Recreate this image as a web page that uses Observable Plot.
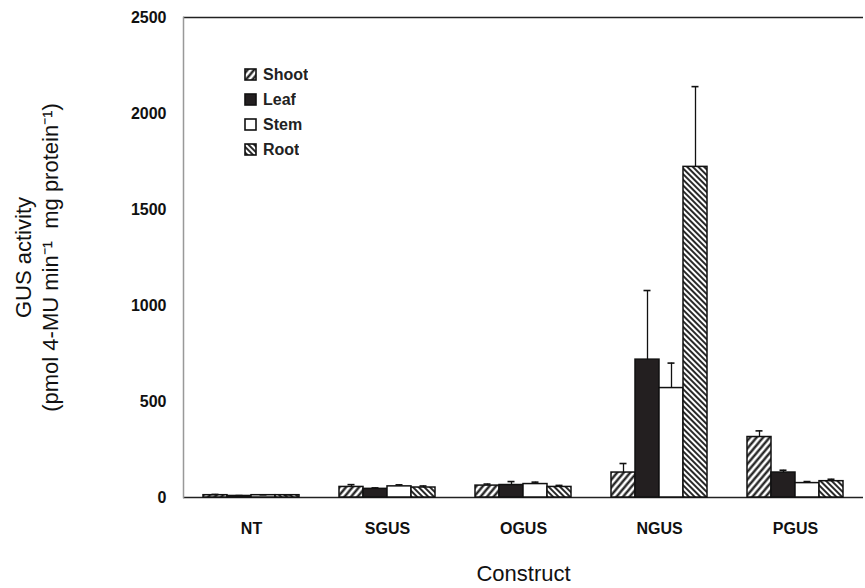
<!DOCTYPE html>
<html><head><meta charset="utf-8">
<script src="https://cdn.jsdelivr.net/npm/d3@7"></script>
<script src="https://cdn.jsdelivr.net/npm/@observablehq/plot@0.6"></script>
<style>
body{margin:0;background:#fff;font-family:"Liberation Sans",Arial,sans-serif;}
#wrap{position:relative;width:865px;height:588px;}
#legend{position:absolute;left:245px;top:62px;}
#legend svg rect{stroke:#111;stroke-width:1.6px;}
.lg-swatches{font-family:"Liberation Sans",Arial,sans-serif !important;font-size:16px !important;font-weight:bold !important;color:#222;margin:0 !important;}
.lg-swatch{height:25px;padding:0 !important;}
.lg-swatch > svg{margin-right:7px !important;}
</style></head><body><div id="wrap"><div id="legend"></div></div>
<script>
const constructs = ["NT","SGUS","OGUS","NGUS","PGUS"];
const tissues = ["Shoot","Leaf","Stem","Root"];
const shootMean = [12,55,62,130,315];
const shootErr  = [4,12,8,47,32];
const leafMean  = [8,45,65,718,130];
const leafErr   = [2,5,18,360,12];
const stemMean  = [12,58,70,570,75];
const stemErr   = [2,8,10,130,8];
const rootMean  = [12,52,55,1722,85];
const rootErr   = [2,8,8,418,10];
const yTicks = [0,500,1000,1500,2000,2500];
const yTitle = "GUS activity\n(pmol 4-MU min\u207B\u00B9  mg protein\u207B\u00B9)";
const xTitle = "Construct";
const fills = ["url(#hatchShoot)","#231f20","#ffffff","url(#hatchRoot)"];

const means = [shootMean, leafMean, stemMean, rootMean];
const errs = [shootErr, leafErr, stemErr, rootErr];
const rows = [];
constructs.forEach((c,i)=>tissues.forEach((t,j)=>rows.push({construct:c,tissue:t,value:means[j][i],err:errs[j][i]})));

const font = '"Liberation Sans",Arial,sans-serif';
const chart = Plot.plot({
  width:865, height:588, marginLeft:181, marginRight:0, marginTop:17, marginBottom:91,
  style:{fontFamily:font, background:"#fff", color:"#111"},
  fx:{domain:constructs, padding:0, label:null, axis:null},
  x:{domain:tissues, paddingInner:0, paddingOuter:0.74, axis:null},
  y:{domain:[0,2500], axis:null},
  color:{domain:tissues, range:fills},
  marks:[
    Plot.ruleY([0], {stroke:"#222", strokeWidth:1.5}),
    Plot.ruleY([2500], {stroke:"#222", strokeWidth:1.5}),
    Plot.frame({anchor:"left", facetAnchor:"left", stroke:"#999", strokeWidth:1.5}),
    Plot.barY(rows, {fx:"construct", x:"tissue", y:"value", fill:"tissue", stroke:"#111", strokeWidth:1.5}),
    Plot.ruleX(rows, {fx:"construct", x:"tissue", y1:"value", y2:d=>d.value+d.err, stroke:"#111", strokeWidth:1.3}),
    Plot.tickY(rows, {fx:"construct", x:"tissue", y:d=>d.value+d.err, stroke:"#111", strokeWidth:1.6, insetLeft:8.5, insetRight:8.5}),
    Plot.axisY({ticks:yTicks, tickFormat:"d", tickSize:0, tickPadding:17, fontWeight:"bold", fontSize:16, label:null}),
    Plot.axisFx({anchor:"bottom", tickSize:0, tickPadding:25, fontWeight:"bold", fontSize:16, label:null}),
    Plot.text([{construct:"OGUS", label:xTitle}], {fx:"construct", text:"label", frameAnchor:"bottom", dy:83, fontSize:22}),
    Plot.text([{construct:"NT", label:yTitle}], {fx:"construct", text:"label", frameAnchor:"left", textAnchor:"middle", rotate:-90, dx:-148, fontSize:22, lineHeight:1.23})
  ]
});
d3.select(chart).append("defs").html(`
<pattern id="hatchShoot" width="5" height="5" patternUnits="userSpaceOnUse" patternTransform="rotate(40)">
 <rect width="5" height="5" fill="#fff"/><line x1="2.5" y1="0" x2="2.5" y2="5" stroke="#111" stroke-width="2.2"/></pattern>
<pattern id="hatchRoot" width="4" height="4" patternUnits="userSpaceOnUse" patternTransform="rotate(-45)">
 <rect width="4" height="4" fill="#fff"/><line x1="2" y1="0" x2="2" y2="4" stroke="#111" stroke-width="1.8"/></pattern>`);
document.getElementById("wrap").prepend(chart);
const leg = chart.legend("color", {legend:"swatches", columns:1, swatchSize:11, className:"lg"});
document.getElementById("legend").append(leg);
</script></body></html>
